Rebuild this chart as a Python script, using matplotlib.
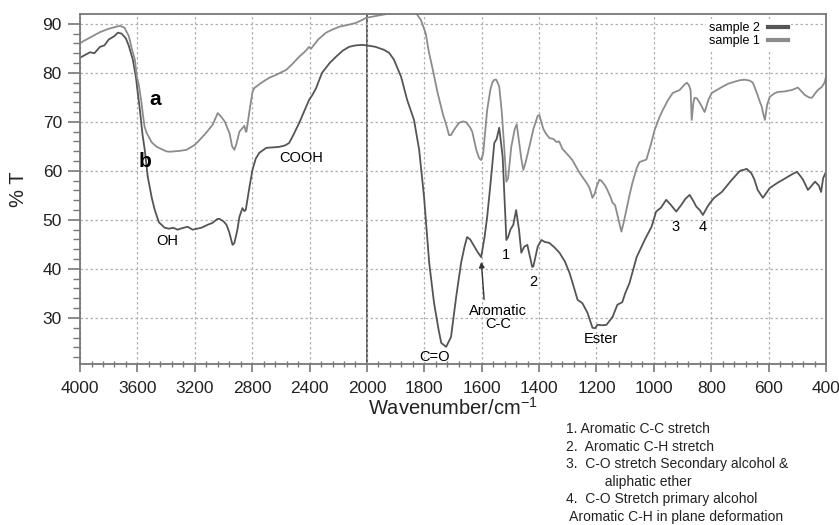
import numpy as np
import matplotlib
matplotlib.use("Agg")
import matplotlib.pyplot as plt
from matplotlib.ticker import FixedLocator

plt.rcParams['font.family'] = ['Liberation Sans', 'DejaVu Sans']
plt.rcParams['mathtext.default'] = 'regular'

# sample 1 (curve a, light)
s1_wn = [4000, 3930, 3861, 3800, 3760, 3722, 3690, 3660, 3640, 3618, 3604, 3590, 3572, 3562, 3550,
         3535, 3500, 3465, 3400, 3375, 3300, 3257, 3200, 3167, 3120, 3076, 3040, 3030, 3010, 2990,
         2970, 2958, 2940, 2924, 2910, 2889, 2865, 2854, 2845, 2840, 2820, 2798, 2785, 2740, 2681,
         2632, 2563, 2520, 2472, 2430, 2403, 2390, 2375, 2340, 2285, 2243, 2194, 2130, 2076, 2040,
         2007, 1960, 1930, 1880, 1830, 1812, 1795, 1785, 1770, 1754, 1735, 1724, 1714, 1707, 1695,
         1679, 1665, 1654, 1640, 1633, 1619, 1609, 1602, 1595, 1581, 1570, 1563, 1556, 1549, 1539,
         1530, 1521, 1514, 1508, 1497, 1485, 1478, 1470, 1462, 1455, 1448, 1434, 1420, 1405, 1399,
         1385, 1375, 1364, 1350, 1340, 1330, 1319, 1294, 1284, 1259, 1235, 1224, 1214, 1205, 1200,
         1190, 1183, 1170, 1162, 1150, 1144, 1135, 1125, 1113, 1105, 1096, 1085, 1075, 1060, 1050,
         1040, 1026, 1010, 997, 980, 969, 950, 934, 910, 893, 885, 878, 872, 868, 862,
         858, 850, 840, 823, 810, 798, 763, 740, 718, 700, 683, 665, 655, 641, 630,
         624, 618, 613, 605, 596, 580, 568, 545, 519, 498, 485, 474, 460, 449, 438,
         428, 415, 405, 400]
s1_t = [86.1, 87.2, 88.3, 89.0, 89.3, 89.6, 89.2, 87.5, 85.0, 82.7, 79.2, 77.5, 74.0, 71.5, 69.0,
        67.7, 65.8, 64.9, 64.0, 63.9, 64.1, 64.3, 65.3, 66.3, 67.8, 69.4, 71.8, 71.5, 70.8, 70.0,
        68.5, 67.7, 65.0, 64.3, 65.5, 68.0, 68.8, 69.2, 68.0, 68.0, 72.0, 76.1, 76.9, 77.9, 79.0,
        79.6, 80.6, 81.8, 83.3, 84.4, 85.3, 84.9, 85.5, 86.8, 88.2, 88.8, 89.4, 89.8, 90.2, 90.7,
        91.2, 91.7, 92.0, 92.3, 92.3, 90.8, 88.0, 84.5, 80.5, 76.0, 71.5, 69.5, 67.3, 67.3, 68.5,
        69.8, 70.1, 69.9, 68.8, 68.0, 64.3, 62.6, 62.2, 63.5, 72.4, 76.5, 78.0, 78.6, 78.6, 77.2,
        72.0, 64.3, 57.8, 58.5, 64.9, 68.5, 69.5, 66.0, 62.5, 60.2, 61.5, 64.9, 68.5, 71.2, 71.4,
        68.5, 67.5, 66.7, 66.5, 65.9, 66.0, 64.5, 62.9, 62.2, 59.6, 57.6, 56.5, 54.5, 55.5, 56.7,
        58.2, 58.0, 57.0, 56.1, 54.5, 53.5, 53.0, 50.5, 47.6, 49.5, 52.0, 55.0, 57.5, 60.5, 61.8,
        62.0, 62.3, 65.5, 68.4, 71.0, 72.4, 74.5, 75.9, 76.5, 77.6, 78.0, 77.5, 76.5, 70.4, 74.0,
        74.9, 74.8, 73.9, 72.0, 74.5, 75.9, 77.1, 77.8, 78.2, 78.5, 78.6, 78.4, 78.0, 75.9, 74.0,
        73.1, 71.5, 70.4, 73.5, 75.1, 75.8, 76.1, 76.2, 76.5, 77.0, 76.2, 75.5, 75.0, 74.9, 75.8,
        76.5, 77.1, 78.0, 79.2]

# sample 2 (curve b, dark)
s2_wn = [4000, 3930, 3900, 3861, 3830, 3800, 3760, 3736, 3710, 3680, 3660, 3632, 3610, 3600, 3583,
         3565, 3549, 3528, 3500, 3479, 3450, 3410, 3380, 3350, 3320, 3290, 3250, 3215, 3153, 3110,
         3076, 3042, 3028, 3000, 2979, 2960, 2937, 2924, 2903, 2889, 2868, 2855, 2845, 2819, 2798,
         2775, 2750, 2701, 2650, 2611, 2570, 2542, 2510, 2472, 2440, 2403, 2380, 2354, 2340, 2313,
         2260, 2215, 2170, 2125, 2080, 2035, 2000, 1970, 1941, 1923, 1906, 1881, 1860, 1836, 1818,
         1801, 1783, 1766, 1750, 1741, 1724, 1707, 1689, 1672, 1660, 1651, 1640, 1633, 1615, 1602,
         1590, 1581, 1570, 1556, 1548, 1539, 1527, 1514, 1508, 1500, 1490, 1480, 1470, 1462, 1452,
         1441, 1432, 1424, 1420, 1405, 1392, 1380, 1364, 1345, 1329, 1310, 1294, 1280, 1266, 1249,
         1231, 1214, 1205, 1196, 1180, 1165, 1144, 1127, 1110, 1100, 1085, 1060, 1032, 1008, 992,
         975, 957, 940, 922, 905, 890, 875, 862, 852, 840, 829, 815, 805, 790, 763,
         728, 700, 676, 660, 650, 638, 620, 608, 596, 568, 550, 533, 515, 501, 490,
         480, 463, 450, 438, 425, 417, 410, 400]
s2_t = [83.1, 84.2, 84.0, 85.3, 85.6, 86.8, 87.5, 88.2, 88.0, 87.0, 85.5, 82.7, 79.0, 76.5, 72.5,
        67.5, 64.3, 58.8, 54.5, 52.0, 49.5, 48.4, 48.2, 48.4, 48.0, 48.3, 48.6, 48.0, 48.4, 49.0,
        49.4, 50.2, 50.2, 49.7, 49.0, 47.5, 44.9, 45.3, 48.0, 50.6, 52.4, 51.8, 52.0, 56.7, 60.2,
        62.5, 63.7, 64.7, 64.8, 64.9, 65.2, 65.7, 67.5, 69.8, 72.0, 74.5, 75.5, 76.9, 78.0, 80.0,
        82.0, 83.3, 84.5, 85.3, 85.6, 85.7, 85.6, 85.3, 84.7, 84.1, 82.7, 79.2, 74.5, 70.4, 64.3,
        54.7, 41.2, 33.0, 27.5, 24.9, 24.1, 26.1, 34.3, 41.2, 44.5, 46.5, 46.0, 45.3, 43.5, 42.4,
        46.5, 50.6, 57.0, 65.7, 66.5, 68.8, 62.9, 45.9, 46.5, 48.0, 49.0, 52.0, 48.0, 43.3, 44.5,
        44.9, 42.5, 40.4, 40.5, 44.5, 45.9, 45.5, 45.3, 44.3, 43.3, 41.5, 39.2, 36.5, 33.7, 33.0,
        31.0, 28.0, 27.9, 28.6, 28.5, 28.6, 30.2, 32.7, 33.2, 35.0, 37.1, 42.4, 45.9, 48.6, 51.7,
        52.5, 54.1, 53.0, 51.7, 53.0, 54.3, 55.1, 53.8, 52.7, 52.0, 51.0, 52.5, 53.4, 54.5, 55.7,
        58.2, 60.0, 60.4, 59.5, 58.3, 56.1, 54.5, 55.5, 56.5, 57.6, 58.2, 58.8, 59.4, 59.8, 59.0,
        58.2, 56.1, 57.0, 57.8, 57.0, 55.7, 58.5, 59.8]

x_ticks = [4000, 3600, 3200, 2800, 2400, 2000, 1800, 1600, 1400, 1200, 1000, 800, 600, 400]
y_ticks = [30, 40, 50, 60, 70, 80, 90]

notes = ["1. Aromatic C-C stretch",
         "2.  Aromatic C-H stretch",
         "3.  C-O stretch Secondary alcohol &",
         "          aliphatic ether",
         "4.  C-O Stretch primary alcohol",
         " Aromatic C-H in plane deformation"]


# axis scale: above 2000 cm-1 is compressed by half
def fwd(w):
    w = np.asarray(w, dtype=float)
    return np.where(w >= 2000, w, 2 * w - 2000)


def inv(u):
    u = np.asarray(u, dtype=float)
    return np.where(u >= 2000, u, (u + 2000) / 2)


fig = plt.figure(figsize=(8.39, 5.25), dpi=100)
ax = fig.add_axes([0.0954, 0.3067, 0.8891, 0.6666])
ax.set_xscale('function', functions=(fwd, inv))

ax.plot(s2_wn, s2_t, color='#555555', lw=1.3, label='sample 2')
ax.plot(s1_wn, s1_t, color='#8c8c8c', lw=1.3, label='sample 1')
ax.axvline(2000, color='#555555', lw=1.3, zorder=1)

ax.set_xlim(4000, 400)
ax.set_ylim(20.6, 92)
ax.set_xticks(x_ticks)
ax.set_xticklabels([str(t) for t in x_ticks])
ax.set_yticks(y_ticks)
ax.xaxis.set_minor_locator(FixedLocator(list(np.arange(4000, 2000, -80)) + list(np.arange(2000, 400, -40))))
ax.yaxis.set_minor_locator(FixedLocator(np.arange(22, 92, 2)))

ax.grid(True, which='major', color='#b0b0b0', linestyle=(0, (2, 2)), lw=0.9)
for s in ax.spines.values():
    s.set_color('#777777')
    s.set_linewidth(1.3)
ax.tick_params(axis='both', which='major', labelsize=12.5, colors='#777777', labelcolor='#222222')
ax.tick_params(axis='y', which='major', direction='out', length=9, width=1.2, pad=4)
ax.tick_params(axis='y', which='minor', direction='out', length=5, width=1.0, colors='#777777')
ax.tick_params(axis='x', which='major', direction='out', length=6, width=1.2, pad=6)
ax.tick_params(axis='x', which='minor', direction='inout', length=4, width=1.0, colors='#777777')

ax.set_xlabel(r'Wavenumber/cm$^{-1}$', fontsize=14.5, color='#222222')
ax.xaxis.set_label_coords(0.5, -0.095)
ax.set_ylabel('% T', fontsize=14.5, color='#222222')
ax.yaxis.set_label_coords(-0.07, 0.5)

# peak labels
ax.text(3479, 74.5, 'a', fontsize=15, fontweight='bold', ha='center', va='center')
ax.text(3549, 62, 'b', fontsize=15, fontweight='bold', ha='center', va='center')
ax.text(3389, 45.7, 'OH', fontsize=10.5, ha='center', va='center')
ax.text(2458, 62.7, 'COOH', fontsize=10.5, ha='center', va='center')
ax.text(1764, 22.0, 'C=O', fontsize=10.5, ha='center', va='center')
ax.text(1542, 30.0, 'Aromatic\nC-C', fontsize=10.5, ha='center', va='center', linespacing=0.9)
ax.annotate('', xy=(1602, 42.0), xytext=(1591, 33.2),
            arrowprops=dict(arrowstyle='-|>', color='#333333', lw=1.0, mutation_scale=8))
ax.text(1514, 42.9, '1', fontsize=10.5, ha='center', va='center')
ax.text(1420, 37.3, '2', fontsize=10.5, ha='center', va='center')
ax.text(1186, 25.7, 'Ester', fontsize=10.5, ha='center', va='center')
ax.text(924, 48.6, '3', fontsize=10.5, ha='center', va='center')
ax.text(830, 48.6, '4', fontsize=10.5, ha='center', va='center')

leg = ax.legend(loc='upper right', bbox_to_anchor=(0.962, 1.005), fontsize=9, markerfirst=False,
                handlelength=1.6, handletextpad=0.6, labelspacing=0.05, borderpad=0.3,
                frameon=True, fancybox=False, framealpha=1, edgecolor='none')
for h in leg.get_lines():
    h.set_linewidth(3)

for i, n in enumerate(notes):
    fig.text(566 / 839, 1 - (429 + 17.6 * i) / 525, n, fontsize=10, va='center', ha='left', color='#222222')

fig.savefig('out.png', dpi=100)
